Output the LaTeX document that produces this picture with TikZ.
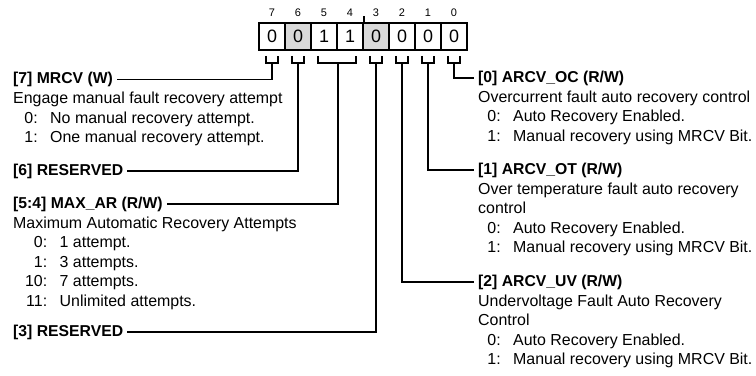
\documentclass[tikz,border=0pt]{standalone}
\usepackage{fontspec}
\setmainfont{Liberation Sans}
\usetikzlibrary{positioning}
\definecolor{resgray}{gray}{0.85}
\newcommand{\fielditem}[3]{\makebox[#1][r]{#2:}\hspace{12.5bp}#3}
\tikzset{
  regcell/.style={draw, line width=1.6bp, minimum width=26bp, minimum height=27bp, inner sep=0pt, font=\fontsize{18}{20}\selectfont},
  bitnum/.style={anchor=base, inner sep=0pt, font=\fontsize{11}{12}\selectfont},
  regline/.style={line width=1.6bp},
  fieldhead/.style={anchor=west, inner xsep=4bp, inner ysep=1bp, font=\bfseries\fontsize{15.8}{19.5}\selectfont},
  fielddesc/.style={anchor=north west, align=left, inner xsep=4bp, inner ysep=0pt, font=\fontsize{16}{19.5}\selectfont},
}
\begin{document}
\begin{tikzpicture}[x=1bp, y=-1bp]
  \useasboundingbox (0,0) rectangle (756,375);
  % register cells
  \foreach \bit/\val/\col [count=\i from 0] in {7/0/white,6/0/resgray,5/1/white,4/1/white,3/0/resgray,2/0/white,1/0/white,0/0/white}
    \node[regcell, fill=\col] (b\bit) at (272+26*\i, 36.5) {\val};
  \foreach \bit in {7,...,0}
    \node[bitnum] (n\bit) at ([yshift=6bp]b\bit.north) {\bit};
  \draw[regline] (b4.north east) -- ++(0,-6);
  % brackets
  \foreach \bit in {7,6,3,2,1,0}
    \draw[regline] ([xshift=-6bp,yshift=-5bp]b\bit.south) -- ++(0,7) -- ++(12,0) -- ++(0,-7);
  \draw[regline] ([xshift=-6bp,yshift=-5bp]b5.south) -- ++(0,7) -| ([xshift=6bp,yshift=-5bp]b4.south);
  % field headings
  \node[fieldhead] (h7) at (9,79.5) {[7] MRCV (W)};
  \node[fieldhead] (h6) at (9,171) {[6] RESERVED};
  \node[fieldhead] (h54) at (9,204) {[5:4] MAX\_AR (R/W)};
  \node[fieldhead] (h3) at (9,332) {[3] RESERVED};
  \node[fieldhead] (h0) at (474,78) {[0] ARCV\_OC (R/W)};
  \node[fieldhead] (h1) at (474,170) {[1] ARCV\_OT (R/W)};
  \node[fieldhead] (h2) at (474,282) {[2] ARCV\_UV (R/W)};
  % field descriptions
  \node[fielddesc] (d7) at ([yshift=-8.5bp]h7.base west) {Engage manual fault recovery attempt\\
    \fielditem{24.5bp}{0}{No manual recovery attempt.}\\
    \fielditem{24.5bp}{1}{One manual recovery attempt.}};
  \node[fielddesc] (d54) at ([yshift=-8.5bp]h54.base west) {Maximum Automatic Recovery Attempts\\
    \fielditem{34bp}{0}{1 attempt.}\\
    \fielditem{34bp}{1}{3 attempts.}\\
    \fielditem{34bp}{10}{7 attempts.}\\
    \fielditem{34bp}{11}{Unlimited attempts.}};
  \node[fielddesc] (d0) at ([yshift=-8.5bp]h0.base west) {Overcurrent fault auto recovery control\\
    \fielditem{22.5bp}{0}{Auto Recovery Enabled.}\\
    \fielditem{22.5bp}{1}{Manual recovery using MRCV Bit.}};
  \node[fielddesc] (d1) at ([yshift=-8.5bp]h1.base west) {Over temperature fault auto recovery\\
    control\\
    \fielditem{22.5bp}{0}{Auto Recovery Enabled.}\\
    \fielditem{22.5bp}{1}{Manual recovery using MRCV Bit.}};
  \node[fielddesc] (d2) at ([yshift=-8.5bp]h2.base west) {Undervoltage Fault Auto Recovery\\
    Control\\
    \fielditem{22.5bp}{0}{Auto Recovery Enabled.}\\
    \fielditem{22.5bp}{1}{Manual recovery using MRCV Bit.}};
  % connectors
  \draw[regline] ([yshift=-12bp]b7.south) |- (h7.east);
  \draw[regline] ([yshift=-12bp]b6.south) |- (h6.east);
  \draw[regline] ([yshift=-12bp]b5.south east) |- (h54.east);
  \draw[regline] ([yshift=-12bp]b3.south) |- (h3.east);
  \draw[regline] ([yshift=-12bp]b2.south) |- (h2.west);
  \draw[regline] ([yshift=-12bp]b1.south) |- (h1.west);
  \draw[regline] ([yshift=-12bp]b0.south) |- (h0.west);
\end{tikzpicture}
\end{document}
